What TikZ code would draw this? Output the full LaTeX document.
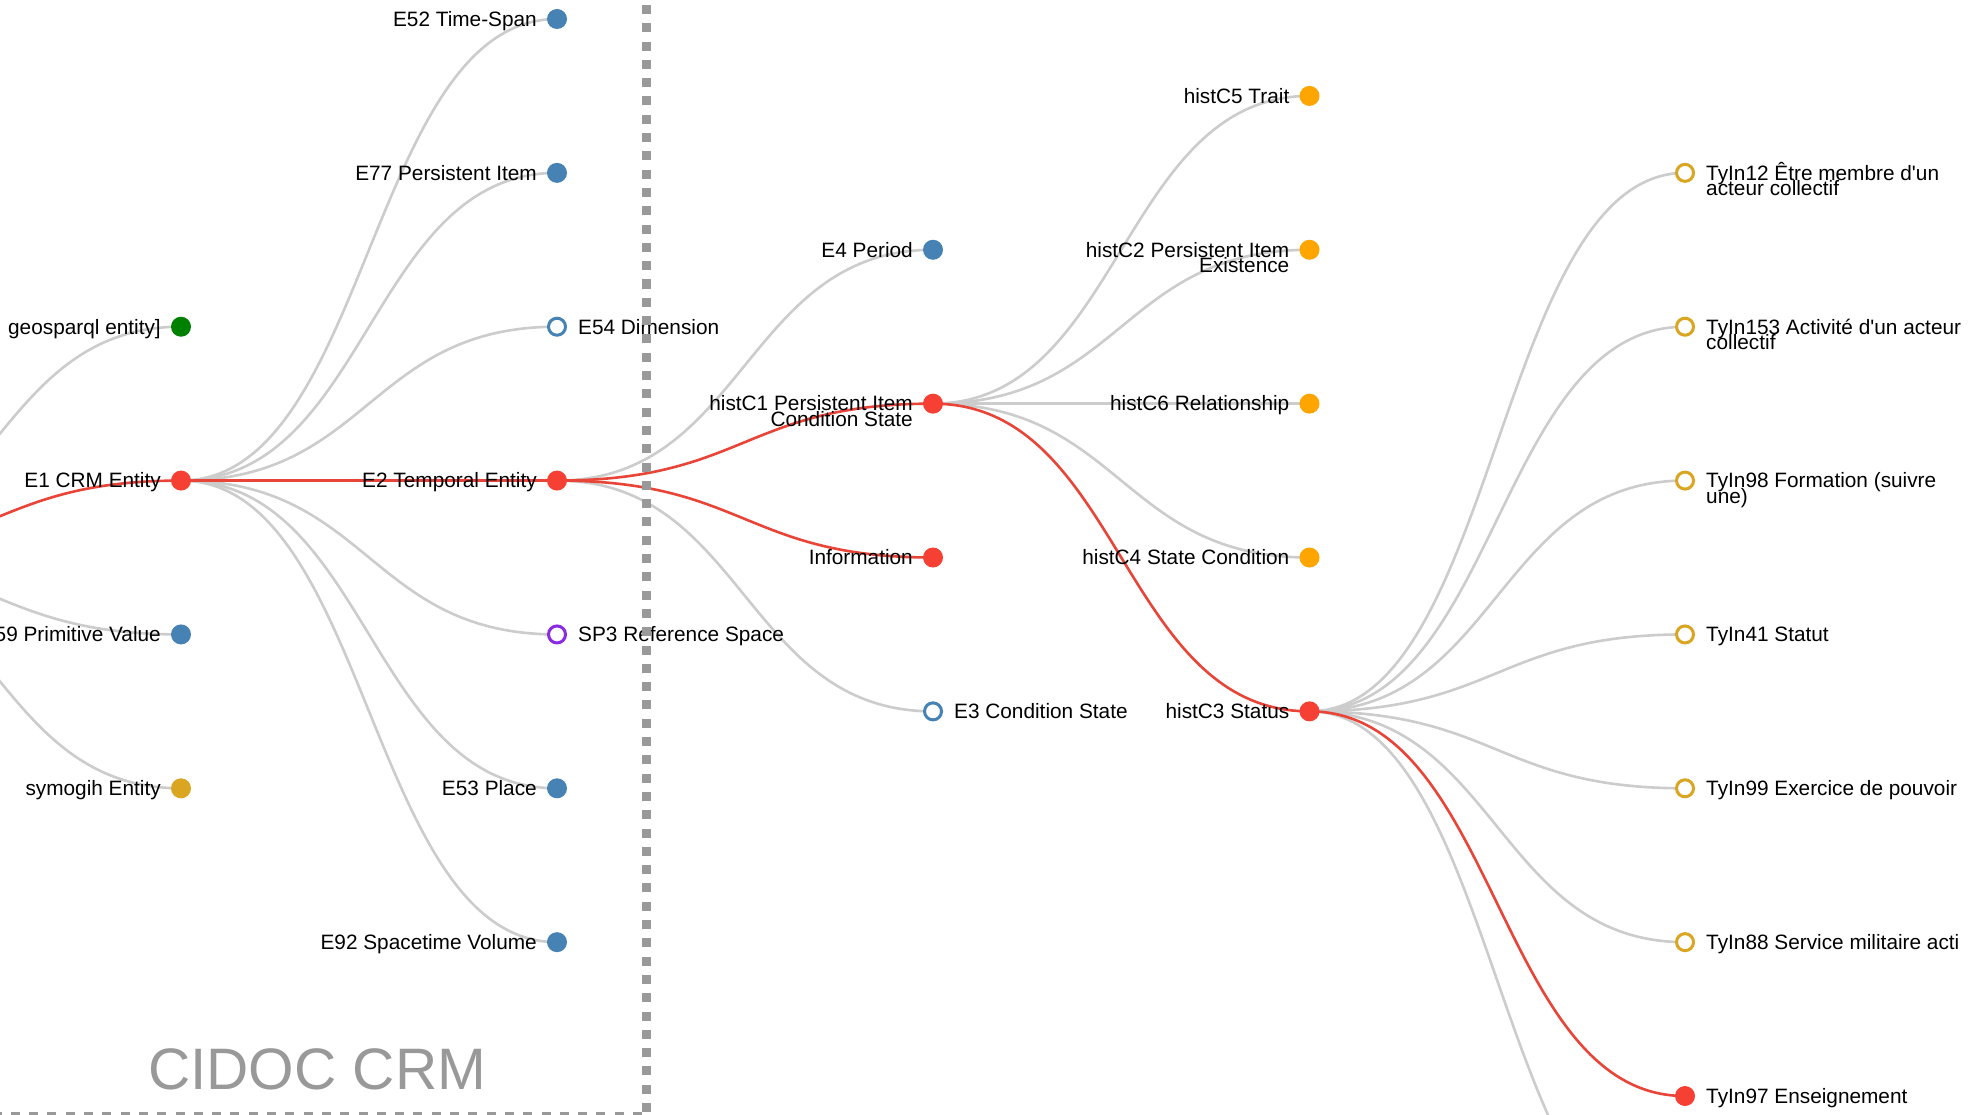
\documentclass[tikz,border=0pt]{standalone}
\usepackage{fontspec}
\setmainfont{Liberation Sans}[Ligatures=TeXOff]
\usetikzlibrary{calc,backgrounds}
\definecolor{linkgray}{RGB}{204,204,204}
\definecolor{linkred}{RGB}{232,68,56}
\definecolor{nodered}{RGB}{246,64,52}
\definecolor{steel}{RGB}{70,130,180}
\definecolor{dgreen}{RGB}{0,128,0}
\definecolor{gold}{RGB}{218,165,32}
\definecolor{orng}{RGB}{255,165,0}
\definecolor{violetb}{RGB}{138,43,226}
\definecolor{dashgray}{RGB}{153,153,153}
\newcommand{\lblfont}{\fontsize{20.8}{16}\selectfont}
\newcommand{\diaglink}[3]{\draw[#1] let \p1=(#2.center), \p2=(#3.center) in (\p1) .. controls ({(\x1+\x2)/2},\y1) and ({(\x1+\x2)/2},\y2) .. (\p2);}
\tikzset{
  fdot/.style={circle,inner sep=0pt,minimum size=20pt,fill=#1},
  odot/.style={circle,inner sep=0pt,minimum size=17pt,line width=3pt,draw=#1,fill=white},
  lblL/.style={inner sep=0pt,font=\lblfont,anchor=base east},
  lblR/.style={inner sep=0pt,font=\lblfont,anchor=base west},
  grayln/.style={draw=linkgray,line width=2.6pt},
  redln/.style={draw=linkred,line width=2.6pt},
  dashline/.style={draw=dashgray,line width=9pt,dash pattern=on 9pt off 9.3pt},
}
\begin{document}
\begin{tikzpicture}[x=1pt,y=-1pt]
\useasboundingbox (0,0) rectangle (1986,1115);
\begin{scope}
\clip (0,0) rectangle (1961,1115);
% off-screen tree positions
\coordinate (root) at (-195,557.51);
\coordinate (tyoff) at (1685,1249.88);
% column 1
\node[fdot=dgreen] (geo) at (181,326.72) {};
\node[fdot=nodered] (e1) at (181,480.58) {};
\node[fdot=steel] (e59) at (181,634.44) {};
\node[fdot=gold] (sym) at (181,788.3) {};
% column 2
\node[fdot=steel] (e52) at (557,19) {};
\node[fdot=steel] (e77) at (557,172.86) {};
\node[odot=steel] (e54) at (557,326.72) {};
\node[fdot=nodered] (e2) at (557,480.58) {};
\node[odot=violetb] (sp3) at (557,634.44) {};
\node[fdot=steel] (e53) at (557,788.3) {};
\node[fdot=steel] (e92) at (557,942.16) {};
% column 3
\node[fdot=steel] (e4) at (933,249.79) {};
\node[fdot=nodered] (hc1) at (933,403.65) {};
\node[fdot=nodered] (info) at (933,557.51) {};
\node[odot=steel] (e3) at (933,711.37) {};
% column 4
\node[fdot=orng] (hc5) at (1309.5,95.93) {};
\node[fdot=orng] (hc2) at (1309.5,249.79) {};
\node[fdot=orng] (hc6) at (1309.5,403.65) {};
\node[fdot=orng] (hc4) at (1309.5,557.51) {};
\node[fdot=nodered] (hc3) at (1309.5,711.37) {};
% column 5
\node[odot=gold] (ty12) at (1685,172.86) {};
\node[odot=gold] (ty153) at (1685,326.72) {};
\node[odot=gold] (ty98) at (1685,480.58) {};
\node[odot=gold] (ty41) at (1685,634.44) {};
\node[odot=gold] (ty99) at (1685,788.3) {};
\node[odot=gold] (ty88) at (1685,942.16) {};
\node[fdot=nodered] (ty97) at (1685,1096.02) {};

% links
\begin{scope}[on background layer]
\fill[white] (0,0) rectangle (1986,1115);
\clip (0,0) rectangle (1961,1115);
\diaglink{grayln}{root}{geo}
\diaglink{grayln}{root}{e59}
\diaglink{grayln}{root}{sym}
\diaglink{grayln}{e1}{e52}
\diaglink{grayln}{e1}{e77}
\diaglink{grayln}{e1}{e54}
\diaglink{grayln}{e1}{sp3}
\diaglink{grayln}{e1}{e53}
\diaglink{grayln}{e1}{e92}
\diaglink{grayln}{e2}{e4}
\diaglink{grayln}{e2}{e3}
\diaglink{grayln}{hc1}{hc5}
\diaglink{grayln}{hc1}{hc2}
\diaglink{grayln}{hc1}{hc6}
\diaglink{grayln}{hc1}{hc4}
\diaglink{grayln}{hc3}{ty12}
\diaglink{grayln}{hc3}{ty153}
\diaglink{grayln}{hc3}{ty98}
\diaglink{grayln}{hc3}{ty41}
\diaglink{grayln}{hc3}{ty99}
\diaglink{grayln}{hc3}{ty88}
\diaglink{grayln}{hc3}{tyoff}
\diaglink{redln}{root}{e1}
\diaglink{redln}{e1}{e2}
\diaglink{redln}{e2}{hc1}
\diaglink{redln}{e2}{info}
\diaglink{redln}{hc1}{hc3}
\diaglink{redln}{hc3}{ty97}
\end{scope}

% labels
\node[lblL] (geot) at ([xshift=-20pt,yshift=-7.3pt]geo.center) {geosparql entity]};
\node[lblL] (e1t) at ([xshift=-20pt,yshift=-7.3pt]e1.center) {E1 CRM Entity};
\node[lblL] (e59t) at ([xshift=-20pt,yshift=-7.3pt]e59.center) {E59 Primitive Value};
\node[lblL] (symt) at ([xshift=-20pt,yshift=-7.3pt]sym.center) {symogih Entity};
\node[lblL] (e52t) at ([xshift=-20pt,yshift=-7.3pt]e52.center) {E52 Time-Span};
\node[lblL] (e77t) at ([xshift=-20pt,yshift=-7.3pt]e77.center) {E77 Persistent Item};
\node[lblR] (e54t) at ([xshift=21pt,yshift=-7.3pt]e54.center) {E54 Dimension};
\node[lblL] (e2t) at ([xshift=-20pt,yshift=-7.3pt]e2.center) {E2 Temporal Entity};
\node[lblR] (sp3t) at ([xshift=21pt,yshift=-7.3pt]sp3.center) {SP3 Reference Space};
\node[lblL] (e53t) at ([xshift=-20pt,yshift=-7.3pt]e53.center) {E53 Place};
\node[lblL] (e92t) at ([xshift=-20pt,yshift=-7.3pt]e92.center) {E92 Spacetime Volume};
\node[lblL] (e4t) at ([xshift=-20pt,yshift=-7.3pt]e4.center) {E4 Period};
\node[lblL] (hc1t) at ([xshift=-20pt,yshift=-7.3pt]hc1.center) {histC1 Persistent Item};
\node[lblL] (hc1u) at ([yshift=-15.5pt]hc1t.base east) {Condition State};
\node[lblL] (infot) at ([xshift=-20pt,yshift=-7.3pt]info.center) {Information};
\node[lblR] (e3t) at ([xshift=21pt,yshift=-7.3pt]e3.center) {E3 Condition State};
\node[lblL] (hc5t) at ([xshift=-20pt,yshift=-7.3pt]hc5.center) {histC5 Trait};
\node[lblL] (hc2t) at ([xshift=-20pt,yshift=-7.3pt]hc2.center) {histC2 Persistent Item};
\node[lblL] (hc2u) at ([yshift=-15.5pt]hc2t.base east) {Existence};
\node[lblL] (hc6t) at ([xshift=-20pt,yshift=-7.3pt]hc6.center) {histC6 Relationship};
\node[lblL] (hc4t) at ([xshift=-20pt,yshift=-7.3pt]hc4.center) {histC4 State Condition};
\node[lblL] (hc3t) at ([xshift=-20pt,yshift=-7.3pt]hc3.center) {histC3 Status};
\node[lblR] (ty12t) at ([xshift=21pt,yshift=-7.3pt]ty12.center) {TyIn12 Être membre d'un};
\node[lblR] (ty12u) at ([yshift=-15.5pt]ty12t.base west) {acteur collectif};
\node[lblR] (ty153t) at ([xshift=21pt,yshift=-7.3pt]ty153.center) {TyIn153 Activité d'un acteur};
\node[lblR] (ty153u) at ([yshift=-15.5pt]ty153t.base west) {collectif};
\node[lblR] (ty98t) at ([xshift=21pt,yshift=-7.3pt]ty98.center) {TyIn98 Formation (suivre};
\node[lblR] (ty98u) at ([yshift=-15.5pt]ty98t.base west) {une)};
\node[lblR] (ty41t) at ([xshift=21pt,yshift=-7.3pt]ty41.center) {TyIn41 Statut};
\node[lblR] (ty99t) at ([xshift=21pt,yshift=-7.3pt]ty99.center) {TyIn99 Exercice de pouvoir};
\node[lblR] (ty88t) at ([xshift=21pt,yshift=-7.3pt]ty88.center) {TyIn88 Service militaire acti};
\node[lblR] (ty97t) at ([xshift=21pt,yshift=-7.3pt]ty97.center) {TyIn97 Enseignement};

% title
\node[inner sep=0pt,anchor=base west,text=dashgray,font=\fontsize{58.5}{60}\selectfont] (title) at (148,1089) {CIDOC CRM};

% dashed frame
\draw[dashline] (646.5,1112) -- (646.5,-20);
\draw[dashline] (642,1116) -- (-20,1116);
\end{scope}
\end{tikzpicture}
\end{document}
